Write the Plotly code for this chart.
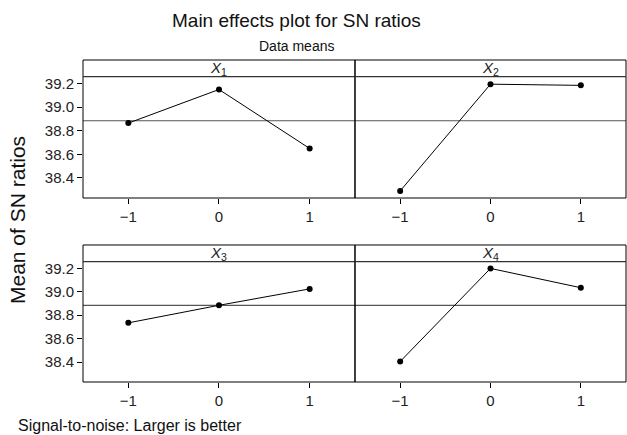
import numpy as np
import plotly.graph_objects as go

levels = [-1, 0, 1]
level_labels = ["−1", "0", "1"]
factors = ["X1", "X2", "X3", "X4"]
factor_labels = ["<i>X</i><sub>1</sub>", "<i>X</i><sub>2</sub>", "<i>X</i><sub>3</sub>", "<i>X</i><sub>4</sub>"]
sn_x1 = [38.865, 39.150, 38.650]
sn_x2 = [38.290, 39.195, 39.185]
sn_x3 = [38.735, 38.885, 39.025]
sn_x4 = [38.405, 39.200, 39.035]
series = [sn_x1, sn_x2, sn_x3, sn_x4]
y_ticks = [38.4, 38.6, 38.8, 39.0, 39.2]

grand_mean = float(np.mean([np.mean(s) for s in series]))

FONT = "Liberation Sans, Arial, sans-serif"
W, H = 627, 435
ML, MR, MT, MB = 83, 1, 60, 53
PW, PH = W - ML - MR, H - MT - MB

fig = go.Figure()

xdoms = [[0, 0.5009], [0.5009, 1.0], [0, 0.5009], [0.5009, 1.0]]
ydoms = [[0.5714, 1.0], [0.5714, 1.0], [0.0, 0.4255], [0.0, 0.4255]]

for i, (vals, lab) in enumerate(zip(series, factor_labels)):
    n = i + 1
    xa = "x" if n == 1 else f"x{n}"
    ya = "y" if n == 1 else f"y{n}"
    fig.add_trace(go.Scatter(
        x=levels, y=vals, mode="lines+markers", xaxis=xa, yaxis=ya,
        line=dict(color="black", width=1),
        marker=dict(color="black", size=6),
        showlegend=False, hoverinfo="skip"))
    xkey = "xaxis" if n == 1 else f"xaxis{n}"
    ykey = "yaxis" if n == 1 else f"yaxis{n}"
    left = (i % 2 == 0)
    fig.update_layout(**{
        xkey: dict(domain=xdoms[i], range=[-1.5, 1.5], anchor=ya,
                   tickvals=levels, ticktext=level_labels,
                   ticks="outside", ticklen=5, tickcolor="black",
                   showgrid=False, zeroline=False, showline=False,
                   tickfont=dict(family=FONT, size=15, color="#222")),
        ykey: dict(domain=ydoms[i], range=[38.23, 39.40], anchor=xa,
                   tickvals=y_ticks if left else [],
                   ticktext=[f"{v:.1f}" for v in y_ticks] if left else [],
                   ticks="outside" if left else "", ticklen=5, tickcolor="black",
                   showticklabels=left,
                   showgrid=False, zeroline=False, showline=False,
                   tickfont=dict(family=FONT, size=15, color="#222")),
    })
    # frame
    fig.add_shape(type="rect", xref=f"{xa} domain", yref=f"{ya} domain",
                  x0=0, x1=1, y0=0, y1=1, line=dict(color="black", width=1),
                  layer="above")
    # strip line
    fig.add_shape(type="line", xref=f"{xa} domain", yref=f"{ya} domain",
                  x0=0, x1=1, y0=0.879, y1=0.879, line=dict(color="#333", width=1.2))
    # mean reference line
    fig.add_shape(type="line", xref=f"{xa} domain", yref=ya,
                  x0=0, x1=1, y0=grand_mean, y1=grand_mean,
                  line=dict(color="#555", width=1.2), layer="below")
    # strip label
    fig.add_annotation(text=lab, xref=f"{xa} domain", yref=f"{ya} domain",
                       x=0.5, y=0.935, showarrow=False,
                       font=dict(family=FONT, size=15, color="#222"),
                       xanchor="center", yanchor="middle")

fig.add_annotation(text="Main effects plot for SN ratios", xref="paper", yref="paper",
                   x=(296 - ML) / PW, y=1 + (MT - 21) / PH, showarrow=False,
                   xanchor="center", yanchor="middle",
                   font=dict(family=FONT, size=19, color="#111"))
fig.add_annotation(text="Data means", xref="paper", yref="paper",
                   x=(296 - ML) / PW, y=1 + (MT - 46) / PH, showarrow=False,
                   xanchor="center", yanchor="middle",
                   font=dict(family=FONT, size=14, color="#111"))
fig.add_annotation(text="Mean of SN ratios", xref="paper", yref="paper",
                   x=(17 - ML) / PW, y=(H - MB - 220) / PH, textangle=-90, showarrow=False,
                   xanchor="center", yanchor="middle",
                   font=dict(family=FONT, size=21, color="#111"))
fig.add_annotation(text="Signal-to-noise: Larger is better", xref="paper", yref="paper",
                   x=(16 - ML) / PW, y=(H - MB - 425) / PH, showarrow=False,
                   xanchor="left", yanchor="middle",
                   font=dict(family=FONT, size=16, color="#111"))

fig.update_layout(width=W, height=H, margin=dict(l=ML, r=MR, t=MT, b=MB),
                  plot_bgcolor="white", paper_bgcolor="white")

fig.write_html("out.html", config={"displayModeBar": False},
               post_script="document.body.style.margin='0';document.body.style.overflow='hidden';")
